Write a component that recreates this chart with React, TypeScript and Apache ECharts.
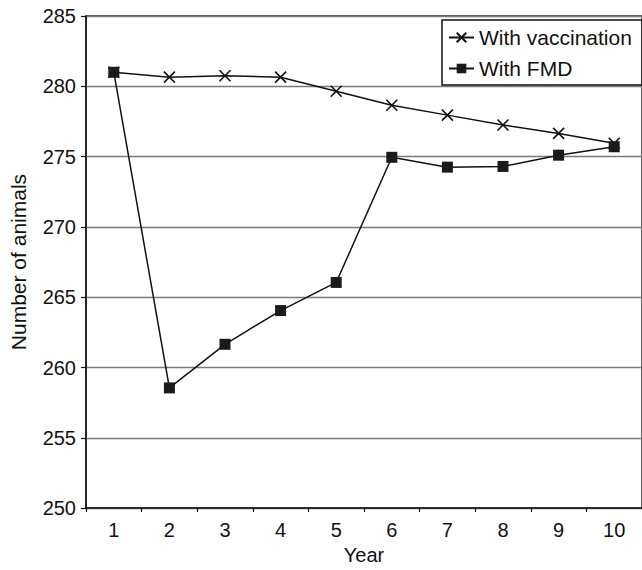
import React, { useEffect, useRef } from "react";
import * as echarts from "echarts";

const years = ["1", "2", "3", "4", "5", "6", "7", "8", "9", "10"];
const withVaccination = [281.0, 280.65, 280.75, 280.65, 279.65, 278.65, 277.95, 277.25, 276.65, 275.95];
const withFMD = [281.0, 258.55, 261.65, 264.05, 266.05, 274.95, 274.25, 274.3, 275.1, 275.7];
const seriesNames = ["With vaccination", "With FMD"];
const yMin = 250;
const yMax = 285;
const yStep = 5;

const FONT = "'Liberation Sans', Arial, Helvetica, sans-serif";
const crossPath = "path://M0,0L10,10M0,10L10,0";

export default function App() {
  const ref = useRef<HTMLDivElement>(null);
  useEffect(() => {
    if (!ref.current) return;
    const chart = echarts.init(ref.current, undefined, { renderer: "svg" });
    chart.setOption({
      animation: false,
      backgroundColor: "#ffffff",
      textStyle: { fontFamily: FONT },
      grid: {
        left: 84,
        top: 16,
        width: 566,
        height: 498,
        containLabel: false,
        show: true,
        backgroundColor: "rgba(0,0,0,0)",
        borderColor: "#222222",
        borderWidth: 1.4,
      },
      legend: {
        orient: "vertical",
        left: 442,
        top: 20,
        padding: [7, 10, 6, 6],
        itemGap: 10,
        itemWidth: 25,
        itemHeight: 12,
        backgroundColor: "#ffffff",
        borderColor: "#111111",
        borderWidth: 1.5,
        borderRadius: 0,
        textStyle: { fontFamily: FONT, fontSize: 21, color: "#111111" },
        data: seriesNames,
      },
      xAxis: {
        type: "category",
        data: years,
        boundaryGap: true,
        name: "Year",
        nameLocation: "middle",
        nameGap: 33,
        nameTextStyle: { fontFamily: FONT, fontSize: 20, color: "#111111" },
        axisLine: { lineStyle: { color: "#111111", width: 1.5 } },
        axisTick: { show: true, length: 4, inside: false, lineStyle: { color: "#111111", width: 1.2 } },
        axisLabel: { fontFamily: FONT, fontSize: 20, color: "#111111", margin: 12 },
        splitLine: { show: false },
      },
      yAxis: {
        type: "value",
        min: yMin,
        max: yMax,
        interval: yStep,
        name: "Number of animals",
        nameLocation: "middle",
        nameGap: 57,
        nameTextStyle: { fontFamily: FONT, fontSize: 21, color: "#111111" },
        axisLine: { show: true, lineStyle: { color: "#111111", width: 1.5 } },
        axisTick: { show: true, length: 5, inside: false, lineStyle: { color: "#111111", width: 1.2 } },
        axisLabel: { fontFamily: FONT, fontSize: 20, color: "#111111", margin: 10 },
        splitLine: { show: true, lineStyle: { color: "#7a7a7a", width: 1.3 } },
      },
      series: [
        {
          name: seriesNames[0],
          type: "line",
          data: withVaccination,
          symbol: crossPath,
          symbolSize: 11,
          showAllSymbol: true,
          lineStyle: { color: "#111111", width: 1.5 },
          itemStyle: { color: "rgba(0,0,0,0)", borderColor: "#111111", borderWidth: 1.6 },
          z: 2,
        },
        {
          name: seriesNames[1],
          type: "line",
          data: withFMD,
          symbol: "rect",
          symbolSize: 11,
          showAllSymbol: true,
          lineStyle: { color: "#111111", width: 1.5 },
          itemStyle: { color: "#1a1a1a", borderColor: "#1a1a1a", borderWidth: 0 },
          z: 3,
        },
      ],
    });
    return () => chart.dispose();
  }, []);
  return (
    <div
      ref={ref}
      style={{ position: "fixed", left: 0, top: 0, width: 642, height: 570 }}
    />
  );
}
